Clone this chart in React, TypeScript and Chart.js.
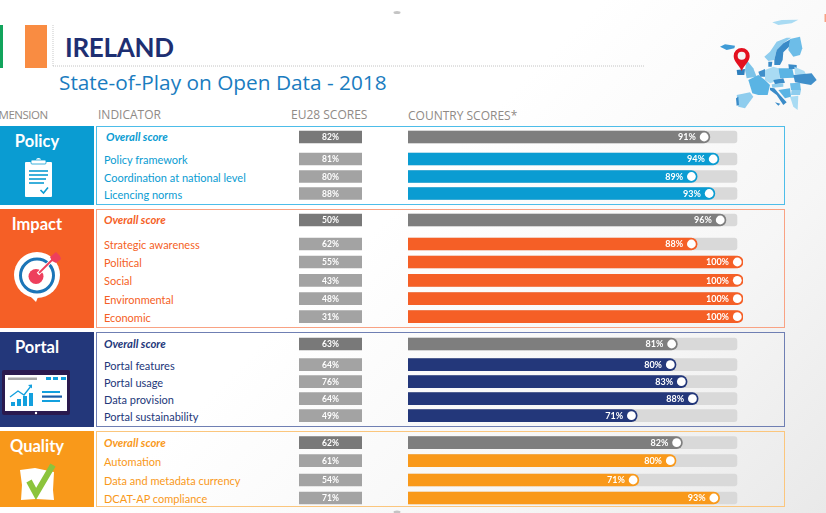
import React, { useEffect, useRef } from "react";
import { Chart, registerables } from "chart.js";

Chart.register(...registerables);

const W = 826;
const H = 513;
const FONT = "Lato, 'Open Sans', sans-serif";

const dimensions = ["Policy", "Impact", "Portal", "Quality"];
const indicators = [
  "Overall score", "Policy framework", "Coordination at national level", "Licencing norms",
  "Overall score", "Strategic awareness", "Political", "Social", "Environmental", "Economic",
  "Overall score", "Portal features", "Portal usage", "Data provision", "Portal sustainability",
  "Overall score", "Automation", "Data and metadata currency", "DCAT-AP compliance",
];
const rowGroup = [0, 0, 0, 0, 1, 1, 1, 1, 1, 1, 2, 2, 2, 2, 2, 3, 3, 3, 3];
const euScores = [82, 81, 80, 88, 50, 62, 55, 43, 48, 31, 63, 64, 76, 64, 49, 62, 61, 54, 71];
const countryScores = [91, 94, 89, 93, 96, 88, 100, 100, 100, 100, 81, 80, 83, 88, 71, 82, 80, 71, 93];
// Length of each bar as drawn in the infographic, which is not strictly proportional to its label.
const drawnLengths = [90.1, 92.8, 86.3, 91.6, 94.9, 86.3, 100, 100, 100, 100, 80.4, 80, 83.3, 86.6, 68.4, 81.9, 80, 68.9, 93];
const trackLength = 98.2;
const rowCentres = [137, 159, 176.5, 193.5, 220, 244, 262, 280.3, 298.7, 316.7, 344, 364.7, 381.7, 398.7, 415.7, 442.7, 460.7, 480, 498];

const groupColors = ["#0a9cd2", "#f55f26", "#23377a", "#f9991a"];
const frameColors = ["#4dbde9", "#f9a283", "#6f7fb3", "#fbc67d"];
const groupBands = [
  [126, 204.5],
  [208.5, 327.5],
  [332, 426.5],
  [431, 507],
];
const isOverall = (i: number) => indicators[i] === "Overall score";

function labelsPlugin(datasetIndex: number, texts: string[], font: string, offset: number | null) {
  return {
    id: "barLabels",
    afterDatasetsDraw(chart: any) {
      const ctx = chart.ctx;
      const bars = chart.getDatasetMeta(datasetIndex).data;
      ctx.save();
      ctx.fillStyle = "#ffffff";
      ctx.font = font;
      ctx.textBaseline = "middle";
      bars.forEach((bar: any, i: number) => {
        if (offset === null) {
          ctx.textAlign = "center";
          ctx.fillText(texts[i], (bar.x + bar.base) / 2, bar.y + 0.5);
        } else {
          ctx.textAlign = "right";
          ctx.fillText(texts[i], bar.x - offset, bar.y + 0.5);
        }
      });
      ctx.restore();
    },
  };
}

const hiddenAxes = (xMax: number) => ({
  x: { type: "linear", min: 0, max: xMax, display: false, offset: false },
  y: { type: "linear", min: 0, max: H, reverse: true, display: false, offset: false },
});

const baseOptions = (xMax: number) => ({
  responsive: false,
  animation: false,
  events: [],
  layout: { padding: 0, autoPadding: false },
  plugins: { legend: { display: false }, tooltip: { enabled: false } },
  scales: hiddenAxes(xMax),
});

function CountryChart() {
  const ref = useRef<HTMLCanvasElement>(null);
  useEffect(() => {
    const chart = new Chart(ref.current as HTMLCanvasElement, {
      type: "bar",
      data: {
        datasets: [
          {
            type: "bar",
            indexAxis: "y",
            grouped: false,
            order: 3,
            barThickness: 12,
            data: rowCentres.map((y) => ({ x: trackLength, y })),
            backgroundColor: "#d9d9d9",
            borderRadius: { topLeft: 0, bottomLeft: 0, topRight: 3, bottomRight: 3 },
            borderSkipped: false,
          },
          {
            type: "bar",
            indexAxis: "y",
            grouped: false,
            order: 2,
            barThickness: 12,
            data: rowCentres.map((y, i) => ({ x: drawnLengths[i], y })),
            backgroundColor: rowCentres.map((_, i) => (isOverall(i) ? "#7e7e7e" : groupColors[rowGroup[i]])),
            borderRadius: { topLeft: 0, bottomLeft: 0, topRight: 6, bottomRight: 6 },
            borderSkipped: false,
          },
          {
            type: "scatter",
            order: 1,
            data: rowCentres.map((y, i) => ({ x: drawnLengths[i] - 1.7, y })),
            backgroundColor: "#ffffff",
            borderWidth: 0,
            pointRadius: 4.4,
          },
        ],
      } as any,
      options: baseOptions(100) as any,
      plugins: [labelsPlugin(1, countryScores.map((v) => `${v}%`), `bold 9px ${FONT}`, 14)],
    });
    return () => chart.destroy();
  }, []);
  return (
    <canvas ref={ref} width={335} height={H} style={{ position: "absolute", left: 408, top: 0, width: 335, height: H }} />
  );
}

function EuChart() {
  const ref = useRef<HTMLCanvasElement>(null);
  useEffect(() => {
    const chart = new Chart(ref.current as HTMLCanvasElement, {
      type: "bar",
      data: {
        datasets: [
          {
            indexAxis: "y",
            barThickness: 12,
            data: rowCentres.map((y) => ({ x: 100, y })),
            backgroundColor: rowCentres.map((_, i) => (isOverall(i) ? "#797979" : "#a3a3a3")),
          },
        ],
      } as any,
      options: baseOptions(100) as any,
      plugins: [labelsPlugin(0, euScores.map((v) => `${v}%`), `bold 8.5px ${FONT}`, null)],
    });
    return () => chart.destroy();
  }, []);
  return (
    <canvas ref={ref} width={63} height={H} style={{ position: "absolute", left: 299, top: 0, width: 63, height: H }} />
  );
}

function Text(props: { x: number; y: number; size: number; color: string; children: React.ReactNode; style?: React.CSSProperties }) {
  return (
    <div
      style={{
        position: "absolute",
        left: props.x,
        top: props.y,
        transform: "translateY(-50%)",
        fontSize: props.size,
        lineHeight: 1,
        color: props.color,
        fontFamily: FONT,
        whiteSpace: "nowrap",
        ...props.style,
      }}
    >
      {props.children}
    </div>
  );
}

function Icons() {
  return (
    <svg width={W} height={H} style={{ position: "absolute", left: 0, top: 0 }}>
      {/* flag */}
      <rect x={0} y={25} width={3} height={43} fill="#12a45c" />
      <rect x={25} y={25} width={22} height={43} fill="#f98c42" />
      <line x1={53} y1={25} x2={53} y2={66} stroke="#c9c9c9" strokeWidth={1} strokeDasharray="1 1" />
      <line x1={53} y1={66} x2={645} y2={66} stroke="#c4c4c4" strokeWidth={1} strokeDasharray="1 1" />
      <ellipse cx={397} cy={12.5} rx={3.5} ry={1.5} fill="#c4c4c4" />
      <ellipse cx={397} cy={512} rx={3.5} ry={1.5} fill="#c4c4c4" />
      <rect x={824.5} y={14} width={1.5} height={8} fill="#f9a283" />

      {/* clipboard */}
      <rect x={25} y={162} width={27} height={35} rx={1} fill="#fff" />
      <circle cx={38.5} cy={160.5} r={2.6} fill="#fff" />
      <rect x={31} y={160} width={15} height={4} rx={1} fill="#fff" stroke="#0a9cd2" strokeWidth={0.8} />
      {[[29, 48], [29, 48], [29, 46], [29, 44]].map(([a, b], i) => (
        <line key={i} x1={a} x2={b} y1={171 + i * 4} y2={171 + i * 4} stroke="#0a9cd2" strokeWidth={1.6} />
      ))}
      <polyline points="40.5,190 43.5,193 48,187.5" fill="none" stroke="#0a9cd2" strokeWidth={1.6} />

      {/* target */}
      <circle cx={37} cy={275} r={23} fill="#fff" />
      <polygon points="28,294 38,297 36,302" fill="#fff" />
      <circle cx={37} cy={275.5} r={16.5} fill="none" stroke="#1b75b7" strokeWidth={3} />
      <circle cx={36} cy={276.5} r={7.5} fill="#ee3f5c" />
      <line x1={38} y1={274} x2={54} y2={258} stroke="#fff" strokeWidth={3.5} />
      <line x1={39} y1={273} x2={54} y2={258} stroke="#ee3f5c" strokeWidth={1.8} />
      <polygon points="50,257 56,252 60,256 61,259 56,263 52,261" fill="#ee3f5c" />

      {/* tablet */}
      <rect x={2} y={370} width={68} height={45} rx={2} fill="#2a1a4e" />
      <rect x={5} y={375} width={62} height={36} fill="#fff" />
      <circle cx={36} cy={413} r={1.2} fill="#fff" />
      <rect x={8} y={377.5} width={29} height={2.5} fill="#a8a8a8" />
      {[46, 53, 61].map((x) => (
        <rect key={x} x={x} y={377} width={5} height={3} fill="#13a0de" />
      ))}
      {[[11, 402], [17, 399], [23, 396], [29, 393]].map(([x, y]) => (
        <rect key={x} x={x} y={y} width={4} height={406 - y} fill="#13a0de" />
      ))}
      <polyline points="10,397 18,391 24,395 31,386" fill="none" stroke="#13a0de" strokeWidth={1.3} />
      <polygon points="28,385 32,384.5 32,388.5" fill="#13a0de" />
      <rect x={42} y={391} width={18} height={2} fill="#13a0de" />
      <rect x={42} y={395.5} width={20} height={2.2} fill="#1b5fa8" />
      <rect x={42} y={400} width={18} height={2} fill="#13a0de" />

      {/* check box */}
      <polygon points="20,470 35,468 54,472 53,490 54,500 36,499 21,500 22,485" fill="#fff" />
      <polyline points="29,481 36,494 53,465" fill="none" stroke="#8cc43c" strokeWidth={6} />

      {/* map */}
      <g transform="translate(715 15) scale(0.3333)">
        <polygon points="172,22 200,15 250,14 230,25 190,30" fill="#a9dbf3" />
        <polygon points="15,95 30,88 60,92 58,100 35,105" fill="#3f9bd6" />
        <polygon points="148,125 165,110 185,80 215,68 228,68 205,85 185,105 178,135 160,138" fill="#8fcdee" />
        <polygon points="178,135 185,105 205,85 228,72 222,95 205,112 203,135 195,150 178,150" fill="#3a8bc8" />
        <polygon points="225,72 255,65 262,100 255,120 235,125 220,105" fill="#6dbde8" />
        <polygon points="160,140 172,140 170,155 160,155" fill="#3a8bc8" />
        <polygon points="95,135 115,160 125,185 95,190 90,165" fill="#7cc3e8" />
        <polygon points="65,165 90,162 88,180 67,180" fill="#2f7fbd" />
        <polygon points="130,170 150,162 150,185 135,185" fill="#3f8fca" />
        <polygon points="100,195 130,180 150,195 165,210 158,240 130,240 112,235" fill="#5ab4e4" />
        <polygon points="65,240 105,232 115,245 90,280 70,275" fill="#8fcdee" />
        <polygon points="63,250 70,245 72,270 65,272" fill="#3a8bc8" />
        <polygon points="150,165 175,155 190,160 195,195 165,205 150,195" fill="#a9dbf3" />
        <polygon points="190,160 232,160 238,188 195,190" fill="#5ab4e4" />
        <polygon points="220,148 245,150 245,162 222,162" fill="#3a8bc8" />
        <polygon points="238,155 268,168 275,182 240,178" fill="#a9dbf3" />
        <polygon points="235,180 290,175 305,195 288,210 240,202" fill="#3f8fca" />
        <polygon points="175,195 205,190 210,203 180,208" fill="#3a8bc8" />
        <polygon points="170,208 205,205 205,215 172,218" fill="#8fcdee" />
        <polygon points="225,205 255,203 258,225 228,225" fill="#6dbde8" />
        <polygon points="230,225 258,225 255,240 228,240" fill="#8fcdee" />
        <polygon points="190,225 225,220 228,245 210,250" fill="#5ab4e4" />
        <polygon points="165,218 178,220 195,240 215,262 205,270 185,240 165,225" fill="#3a8bc8" />
        <polygon points="225,245 250,242 248,285 235,275" fill="#a9dbf3" />
        <polygon points="180,262 196,266 190,272" fill="#3a8bc8" />
        <path d="M80 99 a24 24 0 0 1 24 24 c0 17 -17 28 -24 45 c-7 -17 -24 -28 -24 -45 a24 24 0 0 1 24 -24 z" fill="#e3101f" />
        <circle cx={80} cy={122} r={12} fill="#f4f4f4" />
      </g>
    </svg>
  );
}

const HEADER_FONT = { fontFamily: "'Open Sans', sans-serif" };

export default function App() {
  return (
    <div
      style={{
        position: "absolute",
        left: 0,
        top: 0,
        width: W,
        height: H,
        overflow: "hidden",
        background: "linear-gradient(135deg, #ffffff 0%, #ffffff 45%, #f6f6f6 75%, #e9e9e9 100%)",
      }}
    >
      {groupBands.map(([top, bottom], g) => (
        <React.Fragment key={g}>
          <div style={{ position: "absolute", left: 0, top, width: 94, height: bottom - top, background: groupColors[g] }} />
          <div
            style={{
              position: "absolute",
              left: 96,
              top,
              width: 689,
              height: bottom - top,
              boxSizing: "border-box",
              border: `1.5px solid ${frameColors[g]}`,
            }}
          />
          <Text
            x={0}
            y={top + 15}
            size={16.5}
            color="#ffffff"
            style={{ width: 74, textAlign: "center", fontWeight: 700 }}
          >
            {dimensions[g]}
          </Text>
        </React.Fragment>
      ))}

      <Icons />

      <Text x={65} y={46.5} size={26} color="#1e2f72" style={{ fontWeight: 700, letterSpacing: -0.3 }}>
        IRELAND
      </Text>
      <Text x={59} y={82} size={20.8} color="#1a7cc0" style={HEADER_FONT}>
        State-of-Play on Open Data - 2018
      </Text>

      <Text x={-12} y={115} size={11.5} color="#8f8a86" style={{ ...HEADER_FONT, letterSpacing: -0.5 }}>
        DIMENSION
      </Text>
      <Text x={98} y={115} size={12} color="#8f8a86" style={HEADER_FONT}>
        INDICATOR
      </Text>
      <Text x={291} y={115} size={12} color="#8f8a86" style={HEADER_FONT}>
        EU28 SCORES
      </Text>
      <Text x={408} y={116} size={12} color="#8f8a86" style={HEADER_FONT}>
        COUNTRY SCORES*
      </Text>

      {indicators.map((label, i) => (
        <Text
          key={i}
          x={i === 0 ? 106 : 104}
          y={rowCentres[i]}
          size={isOverall(i) ? 11.3 : 11}
          color={groupColors[rowGroup[i]]}
          style={isOverall(i) ? { fontWeight: 700, fontStyle: "italic" } : undefined}
        >
          {label}
        </Text>
      ))}

      <EuChart />
      <CountryChart />
    </div>
  );
}
